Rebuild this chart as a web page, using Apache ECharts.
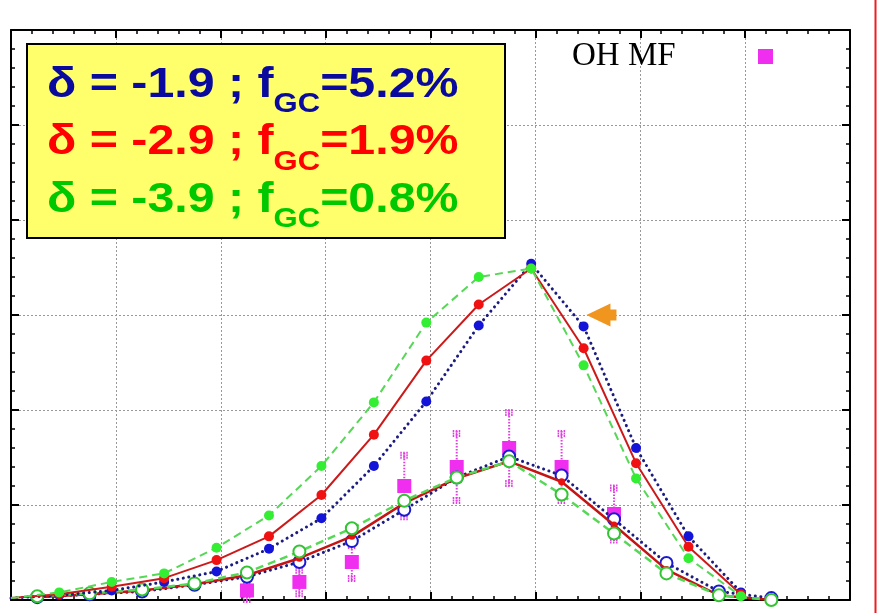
<!DOCTYPE html>
<html>
<head>
<meta charset="utf-8">
<script src="https://cdn.jsdelivr.net/npm/echarts@6/dist/echarts.min.js"></script>
<style>
  html, body { margin: 0; padding: 0; background: #fff; }
  #main { width: 877px; height: 613px; }
</style>
</head>
<body>
<div id="main"></div>
<script>
// model curves: upper set sampled every 0.5, lower set shifted by 0.25
const xUpper = [0, 0.46, 0.96, 1.46, 1.96, 2.46, 2.96, 3.46, 3.96, 4.46, 4.96, 5.46, 5.96, 6.46, 6.96];
const blueUpper = [0.02, 0.05, 0.10, 0.19, 0.30, 0.54, 0.86, 1.41, 2.09, 2.89, 3.54, 2.88, 1.60, 0.67, 0.08];
const redUpper = [0.02, 0.06, 0.14, 0.23, 0.42, 0.67, 1.105, 1.74, 2.52, 3.11, 3.49, 2.65, 1.44, 0.56, 0.06];
const greenUpper = [0.02, 0.08, 0.19, 0.28, 0.55, 0.89, 1.41, 2.08, 2.92, 3.40, 3.49, 2.47, 1.28, 0.44, 0.04];

const xLower = [0.25, 0.75, 1.25, 1.75, 2.25, 2.75, 3.25, 3.75, 4.25, 4.75, 5.25, 5.75, 6.25, 6.75, 7.25];
const blueLower = [0.03, 0.06, 0.09, 0.16, 0.245, 0.40, 0.62, 0.95, 1.29, 1.51, 1.31, 0.85, 0.39, 0.09, 0.02];
const redLower = [0.03, 0.06, 0.10, 0.165, 0.26, 0.44, 0.67, 1.02, 1.28, 1.46, 1.245, 0.79, 0.32, 0.05, 0.0];
const greenLower = [0.04, 0.07, 0.11, 0.175, 0.29, 0.51, 0.755, 1.045, 1.29, 1.46, 1.11, 0.70, 0.28, 0.05, 0.0];

// OH MF points with errors
const xMag = [2.25, 2.75, 3.25, 3.75, 4.25, 4.75, 5.25, 5.75];
const magVal = [0.10, 0.19, 0.40, 1.20, 1.40, 1.60, 1.40, 0.905];
const magErr = [0.12, 0.15, 0.20, 0.35, 0.38, 0.40, 0.38, 0.30];

const arrowPos = [5.63, 3.0];

const boxLines = [
  { pre: 'δ = -1.9 ; f', sub: 'GC', post: '=5.2%', color: '#0a0a9e' },
  { pre: 'δ = -2.9 ; f', sub: 'GC', post: '=1.9%', color: '#ff0000' },
  { pre: 'δ = -3.9 ; f', sub: 'GC', post: '=0.8%', color: '#00c800' }
];

const pairs = (xs, ys) => xs.map((x, i) => [x, ys[i]]);

// text widths so the subscript pieces line up
const FONT = '"Liberation Sans", Arial, sans-serif';
const measureCtx = document.createElement('canvas').getContext('2d');
function textWidth(str, size) {
  measureCtx.font = 'bold ' + size + 'px ' + FONT;
  return measureCtx.measureText(str).width;
}

const BIG = 42, SMALL = 27, SX = 1.15;

function boxText(l, i) {
  const base = 100 + i * 57.5;
  const x0 = 47;
  const x1 = x0 + textWidth(l.pre, BIG) * SX;
  const x2 = x1 + textWidth(l.sub, SMALL) * SX;
  const piece = (txt, x, size, baseline) => ({
    type: 'text',
    x: x,
    y: baseline - 0.35 * size,
    scaleX: SX,
    z: 101,
    style: {
      text: txt,
      fill: l.color,
      fontSize: size,
      fontWeight: 'bold',
      fontFamily: FONT,
      verticalAlign: 'middle'
    }
  });
  return [
    piece(l.pre, x0, BIG, base),
    piece(l.sub, x1, SMALL, base + 14),
    piece(l.post, x2, BIG, base)
  ];
}

const chart = echarts.init(document.getElementById('main'));

const axisCommon = {
  type: 'value',
  interval: 1,
  axisLine: { show: true, onZero: false, lineStyle: { color: '#000', width: 2 } },
  axisTick: { show: true, inside: true, length: 8, lineStyle: { color: '#000', width: 2 } },
  minorTick: { show: true, splitNumber: 5, length: 4, lineStyle: { color: '#000', width: 1.5 } },
  axisLabel: { show: false }
};

const gridLine = { show: true, lineStyle: { color: '#999', type: [2, 2], width: 1 } };

let graphics = [
  {
    type: 'rect',
    shape: { x: 27, y: 44, width: 478, height: 194 },
    style: { fill: '#ffff6b', stroke: '#000', lineWidth: 2 },
    z: 100
  }
];
boxLines.forEach((l, i) => { graphics = graphics.concat(boxText(l, i)); });
graphics = graphics.concat([
  {
    type: 'text',
    x: 572,
    y: 56,
    z: 101,
    style: {
      text: 'OH MF',
      fill: '#000',
      fontSize: 33,
      fontFamily: '"Liberation Serif", "Times New Roman", serif',
      verticalAlign: 'middle'
    }
  },
  {
    type: 'rect',
    shape: { x: 758, y: 49, width: 15, height: 15 },
    style: { fill: '#f02ef0' },
    z: 101
  },
  {
    type: 'line',
    shape: { x1: 875.5, y1: 0, x2: 875.5, y2: 613 },
    style: { stroke: '#ee1c24', lineWidth: 2 },
    z: 101
  }
]);

chart.setOption({
  animation: false,
  backgroundColor: '#fff',
  grid: { left: 11, right: 27, top: 30, bottom: 13 },
  xAxis: [
    Object.assign({}, axisCommon, { min: 0, max: 8, position: 'bottom', splitLine: gridLine }),
    Object.assign({}, axisCommon, { min: 0, max: 8, position: 'top', splitLine: { show: false } })
  ],
  yAxis: [
    Object.assign({}, axisCommon, { min: 0, max: 6, position: 'left', splitLine: gridLine }),
    Object.assign({}, axisCommon, { min: 0, max: 6, position: 'right', splitLine: { show: false } })
  ],
  series: [
    {
      type: 'custom',
      name: 'OH MF err',
      encode: { x: 0, y: [1, 2] },
      data: xMag.map((x, i) => [x, magVal[i] - magErr[i], magVal[i] + magErr[i]]),
      renderItem: (params, api) => {
        const top = api.coord([api.value(0), api.value(2)]);
        const bot = api.coord([api.value(0), api.value(1)]);
        const style = { stroke: '#e040e0', lineWidth: 2, lineDash: [1.5, 1.5] };
        const cap = (y, d) => ({ type: 'line', shape: { x1: top[0] - 4, y1: y + d, x2: top[0] + 4, y2: y + d }, style: style });
        return {
          type: 'group',
          children: [
            { type: 'line', shape: { x1: top[0], y1: top[1], x2: bot[0], y2: bot[1] }, style: style },
            cap(top[1], 0), cap(top[1], 2.5), cap(top[1], 5),
            cap(bot[1], 0), cap(bot[1], -2.5), cap(bot[1], -5)
          ]
        };
      },
      z: 1
    },
    {
      type: 'scatter',
      name: 'OH MF',
      data: pairs(xMag, magVal),
      symbol: 'rect',
      symbolSize: 14,
      itemStyle: { color: '#f02ef0', opacity: 1 },
      z: 2
    },
    {
      type: 'line',
      data: pairs(xLower, blueLower),
      symbol: 'emptyCircle',
      symbolSize: 12,
      lineStyle: { color: '#1c1c80', width: 3, type: [0.1, 5.5], cap: 'round' },
      itemStyle: { color: '#1a1ad0', borderWidth: 3 },
      z: 3
    },
    {
      type: 'line',
      data: pairs(xLower, redLower),
      symbol: 'circle',
      symbolSize: 7,
      lineStyle: { color: '#c41414', width: 2.5 },
      itemStyle: { color: '#e81010' },
      z: 4
    },
    {
      type: 'line',
      data: pairs(xLower, greenLower),
      symbol: 'emptyCircle',
      symbolSize: 12,
      lineStyle: { color: '#55d855', width: 2.5, type: [8, 5] },
      itemStyle: { color: '#33c433', borderWidth: 3 },
      z: 5
    },
    {
      type: 'line',
      data: pairs(xUpper, blueUpper).map((p, i) => i === 0 ? { value: p, symbol: 'none' } : p),
      symbol: 'circle',
      symbolSize: 10,
      lineStyle: { color: '#1c1c80', width: 3, type: [0.1, 5.5], cap: 'round' },
      itemStyle: { color: '#1414d8' },
      z: 6
    },
    {
      type: 'line',
      data: pairs(xUpper, redUpper).map((p, i) => i === 0 ? { value: p, symbol: 'none' } : p),
      symbol: 'circle',
      symbolSize: 10,
      lineStyle: { color: '#cc1a1a', width: 2 },
      itemStyle: { color: '#f01212' },
      z: 7
    },
    {
      type: 'line',
      data: pairs(xUpper, greenUpper).map((p, i) => i === 0 ? { value: p, symbol: 'none' } : p),
      symbol: 'circle',
      symbolSize: 10,
      lineStyle: { color: '#55d855', width: 2, type: [8, 5] },
      itemStyle: { color: '#33ee33' },
      z: 8
    },
    {
      type: 'scatter',
      data: [arrowPos],
      symbol: 'path://M0,11.5 L24,0 L24,6 L30,6 L30,17 L24,17 L24,23 Z',
      symbolSize: [30, 23],
      symbolKeepAspect: false,
      itemStyle: { color: '#f0951e', opacity: 1 },
      z: 9
    }
  ],
  graphic: graphics
});
</script>
</body>
</html>
